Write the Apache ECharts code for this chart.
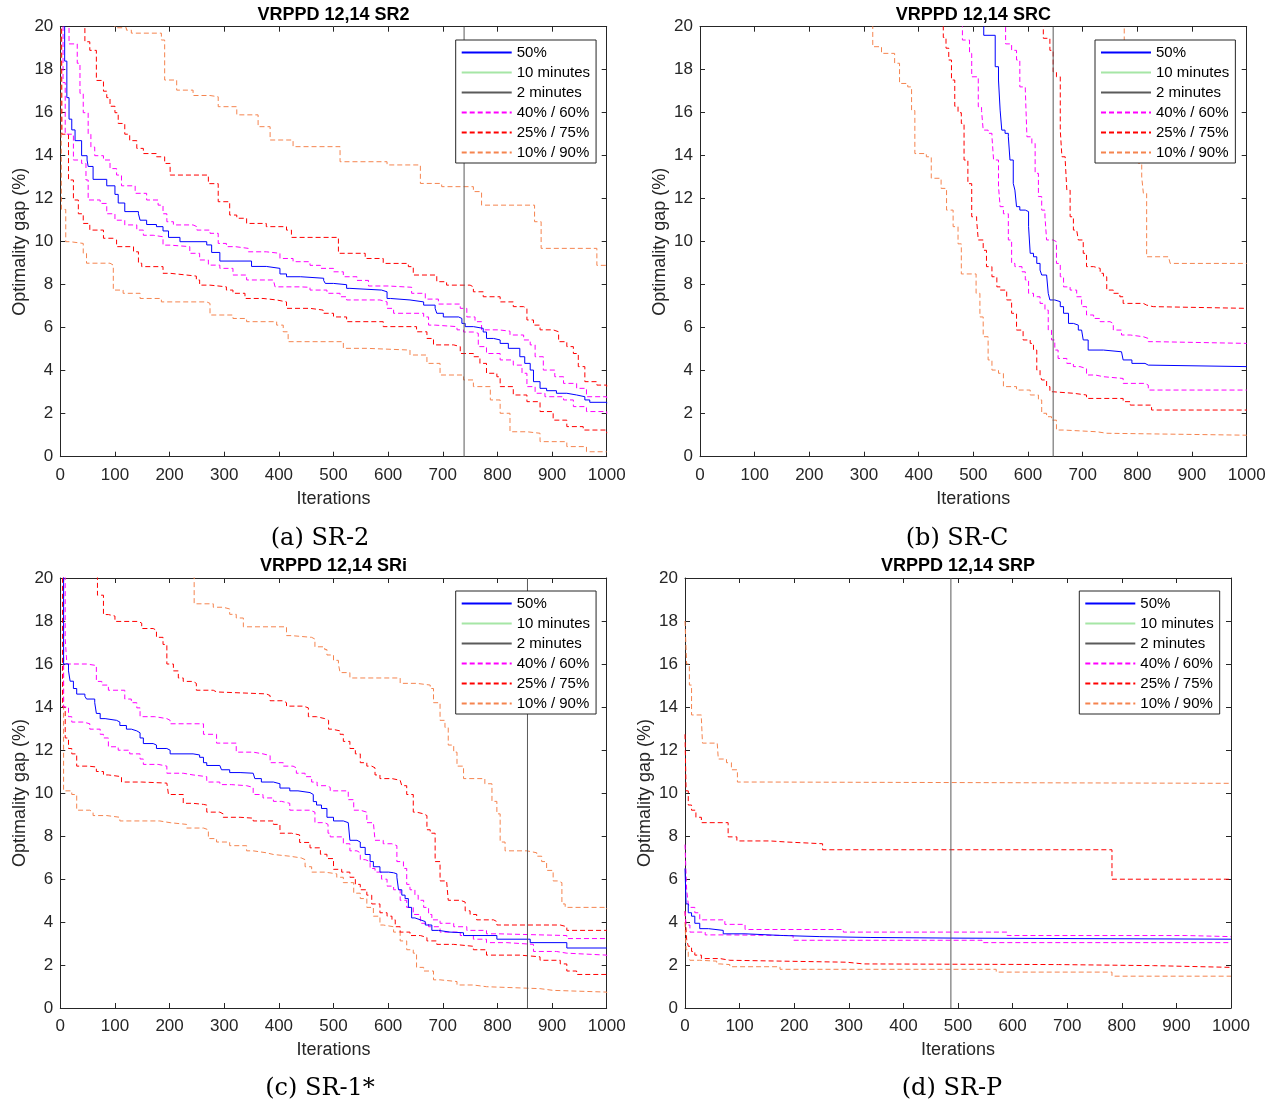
<!DOCTYPE html>
<html><head><meta charset="utf-8">
<script src="https://cdn.jsdelivr.net/npm/echarts@6/dist/echarts.min.js"></script>
<style>html,body{margin:0;padding:0;background:#fff}#c{width:1275px;height:1105px}</style>
</head><body><div id="c"></div>
<script>
// ---------- data (iteration, optimality gap %) ----------
const xTicks = [0,100,200,300,400,500,600,700,800,900,1000];
const yTicks = [0,2,4,6,8,10,12,14,16,18,20];
const panelTitles = ['VRPPD 12,14 SR2','VRPPD 12,14 SRC','VRPPD 12,14 SRi','VRPPD 12,14 SRP'];
const captions = ['(a) SR-2','(b) SR-C','(c) SR-1*','(d) SR-P'];
const legendNames = ['50%','10 minutes','2 minutes','40% / 60%','25% / 75%','10% / 90%'];
const twoMinutes = [739, 646, 855, 487];

// (a) SR2
const a_p50 = [[0,40],[8,18.4],[12,16.7],[16,15.7],[21,15.2],[27,14.7],[39,14.0],[49,13.8],[51,13.5],[60,12.9],[85,12.6],[100,12.2],[106,11.8],[118,11.4],[143,11.3],[146,11.0],[158,10.8],[176,10.7],[188,10.5],[198,10.2],[219,10.0],[268,9.85],[277,9.5],[292,9.1],[350,8.85],[377,8.76],[402,8.5],[414,8.37],[440,8.3],[482,8.2],[485,8.06],[500,8.0],[524,7.83],[530,7.75],[588,7.67],[598,7.36],[604,7.29],[640,7.2],[665,7.05],[686,6.9],[689,6.67],[701,6.5],[729,6.43],[735,6.2],[741,6.05],[756,5.97],[774,5.8],[780,5.5],[793,5.43],[805,5.27],[820,5.04],[841,4.65],[850,4.34],[860,4.03],[866,3.49],[878,3.18],[890,3.07],[908,2.95],[927,2.87],[945,2.79],[960,2.64],[969,2.53],[1000,2.48]];
const a_p60 = [[0,40],[16,19.2],[31,18.3],[36,16.9],[42,16.0],[51,15.0],[56,14.4],[63,14.0],[79,13.8],[91,13.4],[103,13.1],[112,12.6],[137,12.25],[158,11.94],[179,11.7],[188,11.3],[195,10.93],[207,10.78],[243,10.7],[250,10.54],[274,10.39],[289,9.92],[304,9.77],[320,9.69],[344,9.53],[377,9.46],[402,9.22],[426,9.07],[457,8.9],[476,8.76],[500,8.6],[518,8.37],[543,8.2],[564,7.94],[600,7.88],[643,7.6],[668,7.33],[692,7.1],[732,6.9],[744,6.5],[759,6.28],[771,5.9],[802,5.84],[823,5.66],[848,5.43],[860,5.2],[869,4.65],[884,4.03],[905,3.72],[921,3.41],[945,3.18],[963,2.79],[1000,2.71]];
const a_p40 = [[0,40],[5,17.4],[9,15.0],[24,13.8],[39,13.64],[47,12.87],[51,11.94],[73,11.78],[85,11.3],[100,11.0],[118,10.78],[140,10.54],[152,10.3],[170,10.23],[188,9.84],[201,9.77],[237,9.46],[255,9.15],[271,8.91],[292,8.76],[316,8.45],[341,8.22],[390,8.14],[393,7.9],[438,7.88],[457,7.75],[488,7.6],[512,7.44],[524,7.29],[585,7.2],[598,6.9],[610,6.67],[665,6.5],[674,6.12],[686,6.05],[726,5.9],[738,5.8],[756,5.74],[765,5.12],[780,4.8],[805,4.5],[829,4.26],[845,3.88],[854,3.26],[869,2.95],[887,2.79],[921,2.64],[939,2.33],[963,2.1],[1000,2.0]];
const a_p75 = [[0,40],[45,19.3],[54,18.9],[66,17.5],[79,17.0],[85,16.7],[91,16.3],[100,16.0],[106,15.5],[118,15.0],[127,14.7],[140,14.34],[152,14.1],[176,13.95],[191,13.64],[201,13.1],[271,12.7],[289,11.86],[310,11.24],[323,11.09],[341,10.85],[377,10.7],[414,10.54],[423,10.2],[509,9.46],[558,9.22],[591,8.99],[637,8.84],[646,8.45],[689,8.14],[707,7.98],[750,7.9],[756,7.67],[774,7.44],[805,7.2],[829,6.98],[848,6.9],[854,6.36],[866,6.12],[878,5.9],[902,5.81],[912,5.35],[927,5.12],[939,4.8],[948,4.19],[960,3.49],[982,3.33],[1000,3.26]];
const a_p25 = [[0,40],[3,15.0],[15,12.87],[24,11.94],[33,11.3],[42,10.85],[54,10.54],[79,10.16],[97,10.08],[103,9.77],[134,9.53],[143,9.0],[149,8.84],[188,8.53],[201,8.45],[231,8.4],[249,8.22],[255,7.98],[274,7.9],[304,7.75],[316,7.6],[338,7.36],[371,7.29],[396,7.2],[414,6.9],[457,6.82],[481,6.67],[500,6.5],[524,6.28],[591,6.05],[652,5.81],[671,5.5],[683,5.2],[720,5.12],[732,4.8],[756,4.65],[768,4.34],[780,3.88],[799,3.72],[805,3.26],[829,2.87],[854,2.56],[878,2.1],[902,1.7],[927,1.4],[957,1.24],[1000,1.09]];
const a_p90 = [[0,40],[100,19.95],[121,19.84],[130,19.7],[185,19.38],[191,17.52],[213,17.05],[243,16.8],[274,16.74],[289,16.28],[323,15.9],[362,15.35],[384,14.73],[426,14.42],[512,13.72],[598,13.57],[659,12.71],[698,12.56],[756,12.33],[771,11.7],[868,10.93],[880,9.69],[982,8.9],[1000,8.84]];
const a_p10 = [[0,40],[2,11.5],[10,10.0],[18,9.92],[42,9.46],[48,9.0],[91,8.91],[97,7.75],[115,7.6],[146,7.36],[185,7.2],[268,7.13],[274,6.59],[316,6.43],[341,6.28],[396,6.12],[408,5.81],[417,5.35],[518,5.04],[561,4.96],[640,4.73],[671,4.34],[695,3.8],[738,3.57],[756,3.26],[787,2.64],[805,2.02],[823,1.16],[854,1.09],[878,0.7],[927,0.47],[963,0.23],[1000,0.23]];

// (b) SRC
const b_p50 = [[0,40],[519,19.6],[540,18.14],[546,17.52],[549,16.12],[552,15.19],[558,15.04],[564,14.88],[567,13.8],[573,12.71],[576,12.4],[579,11.63],[585,11.47],[595,11.4],[601,10.7],[604,9.46],[610,9.3],[616,8.99],[622,8.68],[625,8.45],[634,8.37],[637,7.6],[640,7.29],[649,7.21],[659,6.98],[665,6.67],[674,6.2],[683,6.12],[692,5.89],[698,5.81],[701,5.43],[710,4.96],[738,4.88],[771,4.81],[774,4.5],[790,4.34],[814,4.26],[820,4.19],[1000,4.19]];
const b_p60 = [[0,40],[559,19.2],[570,18.9],[579,18.45],[585,17.2],[595,17.1],[598,14.88],[607,14.57],[613,13.18],[619,12.1],[625,11.47],[631,11.16],[634,10.08],[646,10.0],[652,8.99],[659,8.37],[665,7.9],[677,7.75],[689,7.44],[698,6.98],[707,6.59],[720,6.43],[732,6.28],[750,6.2],[756,5.89],[771,5.66],[787,5.58],[811,5.5],[820,5.35],[832,5.27],[1000,5.27]];
const b_p40 = [[0,40],[480,19.38],[493,18.76],[497,17.67],[509,16.28],[515,16.1],[518,15.19],[527,15.04],[534,14.9],[537,13.8],[546,12.56],[549,11.63],[555,11.3],[564,10.08],[570,8.99],[576,8.84],[589,8.6],[595,8.22],[601,7.6],[610,7.44],[622,7.13],[631,6.82],[637,5.89],[643,5.43],[649,4.96],[655,4.57],[671,4.34],[683,4.19],[695,4.1],[707,3.8],[723,3.72],[738,3.64],[774,3.41],[814,3.33],[820,3.1],[1000,3.1]];
const b_p75 = [[0,40],[628,19.46],[640,18.9],[646,17.9],[652,17.67],[659,15.19],[662,13.95],[668,13.8],[671,12.4],[677,11.16],[683,10.54],[689,10.47],[692,10.08],[701,9.46],[707,8.84],[720,8.76],[732,8.53],[738,8.37],[744,7.75],[756,7.6],[768,7.44],[774,7.13],[811,7.05],[817,6.98],[829,6.9],[1000,6.9]];
const b_p25 = [[0,40],[445,19.5],[450,19.0],[455,18.45],[460,17.52],[466,16.3],[472,16.0],[478,15.5],[483,13.8],[490,12.7],[497,11.16],[506,11.0],[509,10.08],[518,9.6],[524,8.84],[534,8.37],[543,7.9],[549,7.75],[561,7.29],[570,6.67],[579,5.89],[591,5.43],[604,5.27],[610,4.96],[616,4.03],[622,3.8],[625,3.57],[634,3.26],[640,3.02],[646,2.95],[683,2.87],[707,2.71],[774,2.56],[787,2.4],[826,2.17],[1000,2.17]];
const b_p90 = [[0,40],[776,18.9],[783,17.05],[793,16.12],[799,15.04],[802,13.64],[808,13.0],[811,12.25],[817,9.3],[857,9.22],[860,8.99],[1000,8.99]];
const b_p10 = [[0,40],[316,19.07],[332,18.76],[356,18.3],[365,17.36],[380,17.2],[387,16.1],[393,14.1],[414,13.95],[423,12.95],[441,12.48],[451,11.47],[463,10.7],[472,9.9],[478,8.5],[505,7.6],[512,6.5],[518,5.58],[527,4.5],[534,4.03],[546,3.88],[555,3.26],[579,3.1],[604,2.87],[619,2.64],[625,2.02],[634,1.86],[643,1.7],[652,1.24],[665,1.16],[726,1.09],[744,1.0],[1000,1.0]];

// (c) SRi
const c_p50 = [[0,40],[6,16.0],[15,15.68],[18,15.2],[24,14.86],[30,14.6],[45,14.5],[48,14.37],[63,14.2],[66,13.7],[73,13.46],[82,13.38],[103,13.3],[109,13.14],[121,12.97],[130,12.89],[140,12.8],[146,12.56],[152,12.3],[170,12.23],[176,12.07],[195,11.99],[201,11.82],[243,11.77],[255,11.66],[262,11.41],[268,11.28],[292,11.25],[295,11.08],[310,10.95],[329,10.92],[353,10.84],[356,10.67],[368,10.51],[390,10.43],[402,10.23],[420,10.1],[435,10.02],[457,9.93],[463,9.6],[469,9.44],[478,9.28],[488,8.87],[500,8.7],[518,8.62],[527,8.54],[530,7.8],[543,7.72],[549,7.47],[558,7.14],[567,6.81],[573,6.57],[585,6.32],[601,6.29],[610,6.24],[616,6.08],[619,5.5],[625,5.25],[631,5.09],[637,4.68],[643,4.19],[649,4.1],[659,4.02],[668,3.86],[680,3.61],[692,3.53],[713,3.5],[738,3.37],[799,3.2],[860,3.04],[927,2.79],[1000,2.79]];
const c_p60 = [[0,40],[9,17.16],[12,16.0],[48,15.93],[66,15.19],[76,15.02],[88,14.78],[118,14.37],[130,14.2],[140,13.96],[146,13.55],[173,13.46],[195,13.38],[201,13.22],[262,12.73],[286,12.32],[322,11.9],[353,11.82],[371,11.74],[384,11.41],[408,11.25],[426,11.17],[432,10.92],[448,10.76],[460,10.51],[470,10.34],[488,10.26],[494,10.1],[527,9.69],[537,9.2],[549,9.11],[561,8.62],[573,8.54],[576,7.8],[591,7.64],[607,7.55],[616,6.81],[628,6.49],[634,5.75],[640,5.5],[649,5.25],[655,5.01],[665,4.68],[674,4.35],[680,4.1],[695,3.94],[720,3.78],[744,3.61],[780,3.45],[802,3.37],[927,3.23],[1000,3.2]];
const c_p40 = [[0,40],[6,14.0],[15,13.55],[21,13.3],[42,13.22],[54,12.97],[73,12.73],[79,12.56],[88,12.15],[106,11.99],[127,11.82],[146,11.58],[152,11.33],[179,11.25],[195,10.92],[225,10.84],[243,10.76],[268,10.51],[292,10.39],[313,10.34],[341,10.26],[353,9.93],[371,9.77],[390,9.61],[405,9.52],[420,9.2],[457,9.11],[466,8.62],[484,8.54],[490,8.13],[494,7.96],[518,7.64],[530,7.31],[543,7.22],[549,6.9],[558,6.81],[567,6.49],[576,6.32],[588,5.99],[598,5.67],[610,5.5],[622,5.01],[634,4.68],[646,4.35],[659,3.94],[674,3.78],[695,3.53],[732,3.37],[756,3.2],[780,3.04],[817,2.96],[866,2.63],[908,2.55],[927,2.46],[1000,2.41]];
const c_p75 = [[0,40],[68,19.2],[79,18.3],[88,18.23],[100,17.98],[143,17.9],[149,17.65],[170,17.57],[176,17.24],[188,16.91],[195,16.0],[207,15.68],[216,15.35],[225,15.19],[243,15.1],[249,14.78],[280,14.7],[286,14.61],[377,14.53],[384,14.29],[408,14.2],[414,14.04],[445,13.96],[454,13.55],[469,13.46],[484,13.38],[491,12.97],[497,12.89],[512,12.73],[518,12.4],[530,12.07],[540,11.82],[549,11.41],[561,11.25],[570,11.17],[576,10.84],[585,10.67],[607,10.59],[622,10.51],[625,10.34],[634,9.93],[646,9.11],[652,9.03],[665,8.95],[671,8.29],[677,8.13],[686,6.81],[695,5.91],[707,5.83],[710,5.01],[732,4.93],[741,4.52],[750,4.35],[762,4.1],[793,4.02],[799,3.86],[915,3.78],[927,3.61],[1000,3.61]];
const c_p25 = [[0,40],[4,14.0],[9,12.56],[15,12.07],[21,11.82],[30,11.25],[51,11.21],[66,11.0],[79,10.84],[88,10.76],[112,10.51],[149,10.46],[195,10.43],[198,9.93],[225,9.52],[243,9.47],[262,9.44],[268,9.11],[292,9.03],[298,8.87],[329,8.83],[353,8.7],[390,8.54],[402,8.13],[423,8.05],[438,7.7],[457,7.45],[476,7.15],[488,6.95],[500,6.45],[515,6.32],[530,6.08],[540,5.75],[549,5.5],[561,5.25],[570,4.84],[585,4.43],[598,4.27],[607,4.1],[613,3.78],[622,3.53],[640,3.37],[659,3.28],[671,3.12],[689,2.96],[720,2.87],[756,2.71],[780,2.46],[841,2.38],[878,2.22],[915,2.05],[927,1.72],[945,1.56],[1000,1.56]];
const c_p90 = [[0,40],[245,18.8],[280,18.64],[298,18.56],[310,18.31],[322,18.14],[335,17.73],[414,17.32],[423,17.24],[460,17.16],[466,16.8],[484,16.67],[488,16.42],[500,16.17],[509,16.0],[512,15.6],[530,15.35],[622,15.1],[652,15.02],[677,14.86],[683,14.2],[695,13.38],[704,13.05],[710,12.23],[720,11.9],[726,11.25],[738,10.67],[777,10.43],[790,9.61],[799,9.03],[805,7.72],[814,7.31],[854,7.22],[872,7.06],[881,6.81],[890,6.4],[902,5.91],[911,5.83],[918,4.84],[924,4.68],[1000,4.6]];
const c_p10 = [[0,40],[6,10.1],[21,9.93],[30,9.2],[54,9.11],[60,8.95],[85,8.87],[109,8.7],[182,8.62],[201,8.54],[231,8.37],[262,8.29],[271,7.88],[286,7.72],[310,7.55],[341,7.31],[353,7.22],[377,7.14],[390,7.06],[420,6.98],[441,6.9],[448,6.57],[460,6.32],[484,6.24],[506,6.08],[518,5.83],[537,5.34],[549,5.09],[561,4.68],[573,4.27],[585,3.86],[591,3.78],[610,3.53],[622,3.12],[634,2.71],[646,2.55],[652,1.89],[665,1.72],[683,1.31],[695,1.23],[726,1.07],[756,0.99],[780,0.9],[878,0.82],[902,0.74],[1000,0.7]];

// (d) SRP
const d_p50 = [[0,6.49],[2,4.84],[6,4.43],[12,4.27],[18,3.94],[27,3.69],[43,3.61],[70,3.45],[110,3.37],[180,3.32],[247,3.28],[339,3.25],[500,3.2],[1000,3.2]];
const d_p60 = [[0,7.6],[3,5.5],[6,4.84],[9,4.68],[18,4.43],[27,4.1],[73,3.89],[110,3.65],[290,3.53],[590,3.37],[919,3.32],[1000,3.32]];
const d_p40 = [[0,4.5],[2,3.86],[9,3.53],[37,3.4],[76,3.37],[198,3.15],[544,3.04],[1000,3.04]];
const d_p75 = [[0,12.73],[2,10.1],[6,9.44],[12,9.2],[20,8.87],[30,8.62],[79,7.96],[95,7.77],[156,7.72],[186,7.64],[252,7.36],[782,5.99],[1000,5.99]];
const d_p25 = [[0,4.5],[3,3.2],[6,2.87],[12,2.63],[18,2.46],[30,2.3],[64,2.22],[82,2.13],[296,2.05],[327,2.02],[684,1.97],[858,1.89],[1000,1.89]];
const d_p90 = [[0,18.0],[3,16.0],[8,15.02],[12,13.63],[30,13.46],[32,12.32],[59,12.23],[61,11.58],[76,11.41],[85,11.08],[96,10.51],[147,10.45],[1000,10.45]];
const d_p10 = [[0,4.0],[2,2.71],[6,2.38],[9,2.22],[27,2.18],[58,2.05],[64,2.02],[82,1.92],[174,1.8],[570,1.67],[782,1.48],[1000,1.48]];

const panelData = [
  {p50:a_p50,p40:a_p40,p60:a_p60,p25:a_p25,p75:a_p75,p10:a_p10,p90:a_p90},
  {p50:b_p50,p40:b_p40,p60:b_p60,p25:b_p25,p75:b_p75,p10:b_p10,p90:b_p90},
  {p50:c_p50,p40:c_p40,p60:c_p60,p25:c_p25,p75:c_p75,p10:c_p10,p90:c_p90},
  {p50:d_p50,p40:d_p40,p60:d_p60,p25:d_p25,p75:d_p75,p10:d_p10,p90:d_p90}
];

// ---------- layout ----------
const grids = [
  {left:60.3, top:26.7, width:546.4, height:430},
  {left:700,  top:26.7, width:546.7, height:430},
  {left:60.3, top:578,  width:546.4, height:430},
  {left:685,  top:578,  width:546,   height:430}
];
const legendPos = [[455.7,40],[1095,40],[455.7,591],[1079.3,591]];
const captionPos = [[320,539],[957,539],[320,1089],[952,1089]];

const AX = '#262626';
const FONT = 'Liberation Sans, Arial, Helvetica, sans-serif';
const C = {blue:'#0000ff', green:'#a6e6a6', gray:'#5a5a5a', mag:'#ff00ff', red:'#ff0000', orange:'#f5844f'};
const DASH = [5,3];

const option = {
  animation:false,
  backgroundColor:'#fff',
  grid: grids.map(g => Object.assign({outerBoundsMode:'none', containLabel:false}, g)),
  xAxis: [], yAxis: [], series: [], legend: [], graphic: []
};

grids.forEach((g, i) => {
  const tick = {show:true, inside:true, length:5, lineStyle:{color:AX, width:1}};
  const line = {show:true, onZero:false, lineStyle:{color:AX, width:1}};
  const fmt = v => String(v);
  option.xAxis.push({type:'value', gridIndex:i, position:'bottom', min:xTicks[0], max:xTicks[xTicks.length-1], interval:100,
    axisLine:line, axisTick:tick, splitLine:{show:false},
    axisLabel:{color:AX, fontSize:17, fontFamily:FONT, margin:10, formatter:fmt},
    name:'Iterations', nameLocation:'middle', nameGap:33, nameTextStyle:{color:AX, fontSize:18, fontFamily:FONT}});
  option.xAxis.push({type:'value', gridIndex:i, position:'top', min:xTicks[0], max:xTicks[xTicks.length-1], interval:100,
    axisLine:line, axisTick:tick, splitLine:{show:false}, axisLabel:{show:false}});
  option.yAxis.push({type:'value', gridIndex:i, position:'left', min:yTicks[0], max:yTicks[yTicks.length-1], interval:2,
    axisLine:line, axisTick:tick, splitLine:{show:false},
    axisLabel:{color:AX, fontSize:17, fontFamily:FONT, margin:7, formatter:fmt},
    name:'Optimality gap (%)', nameLocation:'middle', nameGap:31, nameTextStyle:{color:AX, fontSize:18, fontFamily:FONT}});
  option.yAxis.push({type:'value', gridIndex:i, position:'right', min:yTicks[0], max:yTicks[yTicks.length-1], interval:2,
    axisLine:line, axisTick:tick, splitLine:{show:false}, axisLabel:{show:false}});

  const d = panelData[i];
  const mk = (name, data, color, solid, width) => ({
    type:'line', name, data, xAxisIndex:2*i, yAxisIndex:2*i, step:'end', symbol:'none', showSymbol:false,
    clip:true, silent:true, color,
    lineStyle:{color, width: width || 1, type: solid ? 'solid' : DASH},
    itemStyle:{color}
  });
  option.series.push(mk('10% / 90%', d.p10, C.orange, false));
  option.series.push(mk('10% / 90%', d.p90, C.orange, false));
  option.series.push(mk('25% / 75%', d.p25, C.red, false));
  option.series.push(mk('25% / 75%', d.p75, C.red, false));
  option.series.push(mk('40% / 60%', d.p40, C.mag, false));
  option.series.push(mk('40% / 60%', d.p60, C.mag, false));
  option.series.push(mk('50%', d.p50, C.blue, true));
  option.series.push(mk('10 minutes', [], C.green, true, 2));
  const v = twoMinutes[i];
  option.series.push(Object.assign(mk('2 minutes', [[v, yTicks[0]],[v, yTicks[yTicks.length-1]]], C.gray, true), {step:false}));

  option.legend.push({
    data: legendNames, orient:'vertical', left:legendPos[i][0], top:legendPos[i][1],
    itemWidth:50, itemHeight:14, itemGap:5, selectedMode:false,
    padding:[5,6,3,5], borderColor:AX, borderWidth:1, backgroundColor:'#fff', borderRadius:0,
    itemStyle:{opacity:0, color:'transparent', borderColor:'transparent', borderWidth:0},
    textStyle:{color:'#000', fontSize:15, fontFamily:FONT}
  });

  option.graphic.push({type:'text', x:g.left + g.width/2, y:(i >= 2 ? 566 : 15), silent:true, z:100,
    style:{text:panelTitles[i], align:'center', verticalAlign:'middle', fill:'#000', fontSize:18, fontWeight:'bold', fontFamily:FONT}});
  option.graphic.push({type:'text', x:captionPos[i][0], y:captionPos[i][1], silent:true,
    style:{text:captions[i], align:'center', verticalAlign:'middle', fill:'#000', fontSize:24, fontFamily:'DejaVu Serif, serif'}});
});

const chart = echarts.init(document.getElementById('c'), null, {renderer:'canvas'});
chart.setOption(option);
</script></body></html>
